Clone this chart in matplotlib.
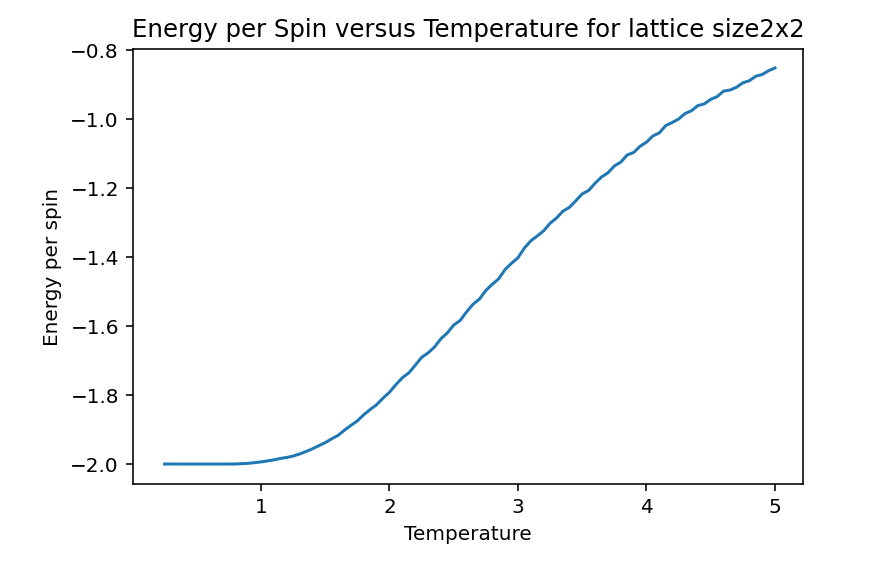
import matplotlib
matplotlib.use("Agg")
import matplotlib.pyplot as plt

# Temperaturas simuladas (red 2x2)
temperature = [
    0.25, 0.30, 0.35, 0.40, 0.45, 0.50, 0.55, 0.60, 0.65, 0.70,
    0.75, 0.80, 0.85, 0.90, 0.95, 1.00, 1.05, 1.10, 1.15, 1.20,
    1.25, 1.30, 1.35, 1.40, 1.45, 1.50, 1.55, 1.60, 1.65, 1.70,
    1.75, 1.80, 1.85, 1.90, 1.95, 2.00, 2.05, 2.10, 2.15, 2.20,
    2.25, 2.30, 2.35, 2.40, 2.45, 2.50, 2.55, 2.60, 2.65, 2.70,
    2.75, 2.80, 2.85, 2.90, 2.95, 3.00, 3.05, 3.10, 3.15, 3.20,
    3.25, 3.30, 3.35, 3.40, 3.45, 3.50, 3.55, 3.60, 3.65, 3.70,
    3.75, 3.80, 3.85, 3.90, 3.95, 4.00, 4.05, 4.10, 4.15, 4.20,
    4.25, 4.30, 4.35, 4.40, 4.45, 4.50, 4.55, 4.60, 4.65, 4.70,
    4.75, 4.80, 4.85, 4.90, 4.95, 5.00,
]

# Energia por spin
energy = [
    -2.000, -2.000, -2.000, -2.000, -2.000, -2.000, -2.000, -2.000, -2.000, -2.000,
    -2.000, -2.000, -1.999, -1.998, -1.996, -1.994, -1.991, -1.988, -1.984, -1.981,
    -1.977, -1.971, -1.964, -1.956, -1.947, -1.938, -1.927, -1.917, -1.902, -1.888,
    -1.875, -1.857, -1.842, -1.828, -1.809, -1.792, -1.770, -1.750, -1.736, -1.714,
    -1.691, -1.678, -1.661, -1.637, -1.620, -1.597, -1.584, -1.559, -1.537, -1.522,
    -1.497, -1.479, -1.463, -1.436, -1.418, -1.402, -1.374, -1.353, -1.339, -1.324,
    -1.302, -1.287, -1.267, -1.256, -1.237, -1.217, -1.207, -1.186, -1.168, -1.156,
    -1.136, -1.125, -1.104, -1.097, -1.079, -1.067, -1.049, -1.040, -1.019, -1.010,
    -1.000, -0.984, -0.976, -0.961, -0.956, -0.943, -0.935, -0.919, -0.916, -0.908,
    -0.895, -0.889, -0.876, -0.871, -0.860, -0.852,
]

fig = plt.figure(figsize=(880 / 144, 564 / 144), dpi=144)
ax = fig.add_axes([0.1511, 0.1418, 0.7614, 0.7713])

ax.plot(temperature, energy)
ax.set_xlim(0.004, 5.218)
ax.set_ylim(-2.058, -0.797)

ax.set_title("Energy per Spin versus Temperature for lattice size2x2", fontsize=12.2)
ax.set_xlabel("Temperature")
ax.set_ylabel("Energy per spin")

fig.savefig("out.png", dpi=144)
